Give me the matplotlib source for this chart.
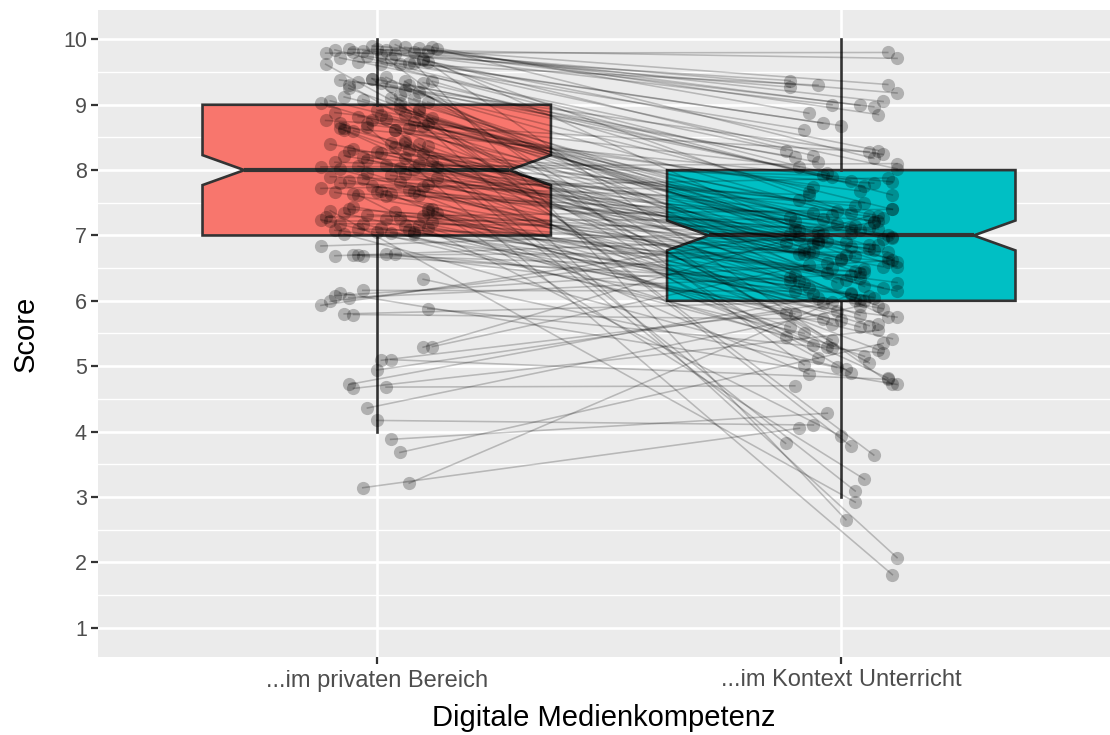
import numpy as np
import matplotlib.pyplot as plt
from matplotlib.patches import Polygon

plt.rcParams['font.family'] = ['Liberation Sans', 'DejaVu Sans']

# categories and box colours
groups = ['...im privaten Bereich', '...im Kontext Unterricht']
box_colors = ['#F8766D', '#00BFC4']

# box statistics
whisk_lo = [4, 3]
q1 = [7, 6]
med = [8, 7]
q3 = [9, 8]
whisk_hi = [10, 10]

# paired answers (jittered as in the picture): horizontal offset + score
pre_dx = [-0.11, -0.06, -0.05, -0.03, -0.04, -0.01, 0.02, 0.04, 0.06, 0.08, 0.09, 0.11, 0.12, 0.03, -0.02, 0.05, 0.10, -0.08, 0.13, 0.00, 0.07, -0.09, 0.01, 0.11, 0.04,
          -0.08, -0.04, -0.01, 0.01, 0.03, 0.07, 0.10, 0.12, 0.06, -0.10, -0.07, -0.03, 0.03, 0.05, 0.08, -0.12, 0.11, -0.06, 0.02, 0.09,
          -0.11, -0.09, -0.07, -0.04, -0.02, 0.00, 0.02, 0.04, 0.06, 0.08, 0.10, 0.12, 0.05, -0.05, 0.01, 0.09, -0.08, 0.07, -0.01, 0.11,
          -0.12, -0.09, -0.06, -0.03, 0.00, 0.02, 0.04, 0.06, 0.08, 0.10, 0.12, -0.10, -0.07, -0.04, 0.03, 0.05, 0.07, 0.09, 0.11, -0.02, 0.01, -0.08, 0.13, 0.06, -0.05,
          -0.12, -0.10, -0.08, -0.05, -0.03, -0.01, 0.01, 0.03, 0.05, 0.07, 0.09, 0.11, 0.13, -0.09, 0.02, 0.06, -0.06, 0.10, -0.02, 0.08,
          -0.11, -0.10, -0.08, -0.06, -0.04, -0.02, 0.00, 0.02, 0.04, 0.06, 0.08, 0.10, 0.12, -0.09, -0.05, 0.01, 0.05, 0.09, -0.07, 0.03, 0.11, -0.12, 0.07, -0.03, 0.13,
          -0.12, -0.09, -0.05, -0.04, -0.03, 0.04, 0.08, 0.02, 0.11, -0.07,
          -0.12, -0.10, -0.09, -0.06, -0.03, -0.07, -0.05, 0.11, 0.10, -0.08,
          0.10, 0.12, 0.00, 0.01, 0.03, -0.06, -0.05, 0.02, -0.02, 0.00, 0.03, 0.05, -0.03, 0.07,
          0.06, -0.04, 0.09, -0.01, 0.12, 0.04, -0.10, 0.08, 0.05, -0.02, 0.10, -0.07, 0.03, -0.11, 0.06, 0.00, 0.09, -0.06, 0.11, -0.08, 0.01]
pre_y = [9.79, 9.85, 9.80, 9.83, 9.66, 9.90, 9.84, 9.78, 9.88, 9.80, 9.87, 9.82, 9.88, 9.70, 9.74, 9.62, 9.68, 9.72, 9.85, 9.86, 9.64, 9.84, 9.63, 9.66, 9.92,
         9.38, 9.35, 9.40, 9.33, 9.28, 9.31, 9.34, 9.36, 9.22, 9.06, 9.12, 9.08, 9.11, 9.15, 9.09, 9.02, 9.04, 9.25, 9.42, 9.20,
         8.76, 8.88, 8.65, 8.82, 8.70, 8.92, 8.78, 8.62, 8.85, 8.74, 8.68, 8.80, 8.95, 8.60, 8.84, 8.90, 8.72, 8.64, 8.76, 8.70,
         8.05, 8.12, 8.30, 8.20, 8.28, 8.08, 8.35, 8.18, 8.02, 8.25, 8.14, 8.40, 8.22, 8.06, 8.42, 8.03, 8.31, 8.10, 8.37, 8.16, 8.26, 8.01, 8.05, 8.44, 8.33,
         7.72, 7.90, 7.80, 7.64, 7.86, 7.75, 7.68, 7.92, 7.82, 7.70, 7.62, 7.78, 7.88, 7.66, 7.60, 7.94, 7.84, 7.74, 7.96, 7.66,
         7.28, 7.22, 7.18, 7.40, 7.10, 7.32, 7.05, 7.25, 7.36, 7.14, 7.02, 7.30, 7.20, 7.08, 7.44, 7.12, 7.26, 7.16, 7.34, 7.04, 7.40, 7.24, 7.08, 7.18, 7.35,
         6.84, 6.69, 6.70, 6.70, 6.68, 6.71, 7.06, 6.72, 7.12, 7.02,
         5.93, 5.99, 6.08, 6.05, 6.16, 5.80, 5.79, 5.88, 6.33, 6.12,
         5.29, 5.30, 4.94, 5.09, 5.10, 4.72, 4.66, 4.68, 4.36, 4.17, 3.88, 3.68, 3.14, 3.21,
         8.42, 7.62, 8.93, 9.40, 7.40, 8.62, 7.38, 9.64, 9.02, 8.66, 9.70, 8.61, 7.64, 9.62, 9.36, 7.66, 8.40, 9.30, 7.36, 8.64, 9.76]
post_dx = [0.10, 0.12, -0.11, -0.11, -0.05, 0.10, 0.12, -0.02, 0.04, 0.07, 0.08, 0.09, -0.07, -0.04, 0.00, -0.08, 0.08, -0.12, 0.07, -0.06, 0.12, -0.03, 0.11, 0.02, -0.09,
           0.09, -0.10, -0.05, 0.02, 0.11, -0.02, 0.05, -0.07, 0.07, -0.11, 0.03, -0.04, 0.09, -0.08, 0.01, -0.12, 0.12, 0.04, -0.01, 0.10,
           0.06, -0.09, 0.11, -0.06, 0.04, -0.01, 0.08, -0.10, 0.02, -0.05, 0.10, -0.03, 0.06, -0.07, 0.00, 0.12, -0.11, 0.05, 0.08, -0.02,
           0.12, -0.04, 0.07, -0.09, 0.03, -0.06, 0.09, -0.01, 0.04, -0.11, 0.11, -0.05, 0.02, 0.07, -0.08, 0.10, -0.03, 0.05, -0.10, 0.01, 0.09, -0.06, 0.04, -0.02, 0.08,
           0.10, -0.07, 0.05, -0.02, 0.08, -0.10, 0.02, 0.11, -0.05, 0.06, -0.09, 0.00, 0.09, -0.03, 0.04, -0.08, 0.12, -0.01, 0.06, -0.06,
           0.11, -0.04, 0.06, -0.09, 0.01, 0.08, -0.06, 0.03, 0.10, -0.02, 0.05, -0.11, 0.12, -0.07, 0.02, 0.07, -0.04, 0.09, -0.10, 0.00, 0.04, -0.08, 0.11, -0.03, 0.05,
           0.08, -0.05, 0.10, 0.03, -0.09, 0.06, -0.02, 0.12, -0.12, 0.01,
           0.07, -0.06, 0.11, 0.02, -0.10, 0.05, -0.04, 0.09, -0.01, 0.12,
           0.06, -0.07, 0.03, -0.12, 0.10, -0.05, 0.08, -0.10, 0.04, -0.06, -0.03, 0.09, -0.09, 0.02,
           -0.12, 0.00, 0.02, 0.07, 0.05, 0.03, 0.03, 0.01, 0.12, 0.11, 0.11, 0.10, -0.07, 0.06, -0.02, 0.08, -0.05, 0.02, -0.11, 0.04, -0.08]
post_y = [9.80, 9.71, 9.37, 9.27, 9.30, 9.31, 9.18, 9.00, 8.99, 8.97, 8.85, 9.05, 8.87, 8.72, 8.68, 8.62, 8.30, 8.30, 8.18, 8.22, 8.02, 7.95, 7.62, 7.34, 7.08,
          8.24, 8.20, 8.12, 7.84, 7.40, 7.90, 7.75, 7.66, 7.20, 7.28, 7.15, 7.02, 6.95, 6.80, 6.70, 6.88, 6.60, 6.42, 6.28, 5.75,
          8.28, 8.05, 7.82, 7.74, 7.68, 7.38, 7.30, 7.22, 7.12, 7.05, 7.00, 6.92, 6.85, 6.75, 6.64, 6.52, 6.30, 6.22, 5.92, 5.40,
          8.10, 7.92, 7.80, 7.55, 7.45, 7.35, 7.26, 7.18, 7.08, 7.02, 6.96, 6.90, 6.82, 6.78, 6.72, 6.66, 6.58, 6.48, 6.40, 6.32, 6.20, 6.10, 6.02, 5.65, 5.25,
          7.88, 7.62, 7.50, 7.32, 7.22, 7.10, 7.04, 6.98, 6.88, 6.80, 6.72, 6.62, 6.52, 6.42, 6.35, 6.25, 6.15, 5.85, 5.62, 5.32,
          7.40, 7.25, 7.12, 6.98, 6.90, 6.85, 6.74, 6.68, 6.60, 6.50, 6.44, 6.36, 6.28, 6.20, 6.12, 6.05, 5.96, 5.88, 5.80, 5.70, 5.60, 5.50, 5.42, 5.30, 5.15,
          7.10, 6.95, 6.75, 6.45, 6.30, 6.08, 5.98, 5.75, 5.45, 4.95,
          7.20, 6.88, 6.62, 6.40, 6.15, 6.00, 5.72, 5.20, 4.98, 4.72,
          7.30, 6.55, 6.02, 5.82, 4.80, 6.05, 5.55, 4.70, 5.92, 4.10, 4.28, 5.35, 4.05, 6.10,
          3.82, 3.93, 3.78, 3.64, 3.27, 3.09, 2.92, 2.65, 2.07, 1.81, 4.72, 4.82, 4.88, 5.05, 5.28, 5.65, 5.12, 4.90, 5.60, 5.78, 5.02]

pre_x = 1 + np.array(pre_dx)
post_x = 2 + np.array(post_dx)
n = len(pre_y)

fig = plt.figure(figsize=(11.1, 7.35), dpi=100)
ax = fig.add_axes([98 / 1110, 78 / 735, 1 - 98 / 1110, 647 / 735])
ax.set_facecolor('#EBEBEB')

# notched boxes (ggplot style)
box_w = 0.75
for i in range(2):
    pos = i + 1
    x0, x1 = pos - box_w / 2, pos + box_w / 2
    notch = 1.58 * (q3[i] - q1[i]) / np.sqrt(n)
    ind = 0.12 * box_w
    verts = [(x0, q1[i]), (x0, med[i] - notch), (x0 + ind, med[i]), (x0, med[i] + notch),
             (x0, q3[i]), (x1, q3[i]), (x1, med[i] + notch), (x1 - ind, med[i]),
             (x1, med[i] - notch), (x1, q1[i])]
    ax.add_patch(Polygon(verts, closed=True, facecolor=box_colors[i], edgecolor='#333333',
                         lw=1.9, zorder=2))
    ax.plot([x0 + ind, x1 - ind], [med[i], med[i]], color='#333333', lw=3.0,
            solid_capstyle='butt', zorder=2)
    ax.plot([pos, pos], [q3[i], whisk_hi[i]], color='#333333', lw=1.9, zorder=2)
    ax.plot([pos, pos], [q1[i], whisk_lo[i]], color='#333333', lw=1.9, zorder=2)

# connecting lines and points
ax.plot(np.vstack([pre_x, post_x]), np.vstack([pre_y, post_y]), color='black',
        alpha=0.22, lw=1.15, zorder=3)
ax.scatter(pre_x, pre_y, s=90, color='black', alpha=0.25, lw=0, zorder=4)
ax.scatter(post_x, post_y, s=90, color='black', alpha=0.25, lw=0, zorder=4)

ax.set_xlim(0.4, 2 + 269 / 465)
ax.set_ylim(0.55, 10.45)
ax.set_xticks([1, 2])
ax.set_xticklabels(groups)
ax.set_yticks(range(1, 11))
ax.set_yticks(np.arange(1.5, 10, 1), minor=True)
ax.grid(which='major', color='white', lw=1.9)
ax.grid(which='minor', axis='y', color='white', lw=0.95)
ax.set_axisbelow(True)
for s in ax.spines.values():
    s.set_visible(False)
ax.tick_params(which='major', length=5, width=1.6, color='#333333',
               labelcolor='#4D4D4D', labelsize=15.5, pad=3)
ax.tick_params(axis='x', labelsize=17, pad=4)
ax.tick_params(which='minor', length=0)

ax.set_xlabel('Digitale Medienkompetenz', fontsize=21, labelpad=9)
ax.set_ylabel('Score', fontsize=21, labelpad=17)

fig.savefig('out.png', dpi=100)
